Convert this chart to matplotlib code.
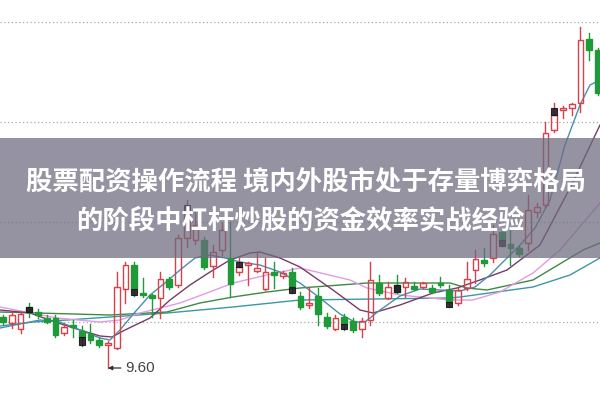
import matplotlib
matplotlib.use("Agg")
import matplotlib.pyplot as plt
from matplotlib.patches import Rectangle

# daily candles (open, high, low, close)
opens = [10.11, 10.05, 9.99, 10.21, 10.16, 10.10, 10.10, 9.95, 10.02, 9.97,
         9.94, 9.88, 9.83, 9.80, 10.39, 10.63, 10.35, 10.33, 10.30, 10.49,
         10.43, 10.90, 10.88, 10.88, 10.62, 10.78, 10.70, 10.56, 10.63, 10.57,
         10.39, 10.56, 10.52, 10.56, 10.32, 10.23, 10.32, 10.11, 9.99, 10.11,
         10.07, 9.99, 10.08, 10.45, 10.30, 10.43, 10.41, 10.42, 10.41, 10.40,
         10.45, 10.38, 10.25, 10.40, 10.58, 10.68, 10.70, 10.96, 10.84, 10.80,
         10.85, 11.16, 11.23, 11.98, 12.18, 12.20, 12.25, 12.89, 12.78]
highs = [10.13, 10.16, 10.16, 10.25, 10.19, 10.13, 10.13, 10.04, 10.08, 10.02,
         10.04, 9.90, 9.87, 10.56, 10.66, 10.66, 10.50, 10.34, 10.56, 10.51,
         10.93, 11.28, 11.16, 10.91, 10.83, 11.05, 11.06, 10.70, 10.66, 10.76,
         10.70, 10.66, 10.57, 10.60, 10.36, 10.41, 10.40, 10.15, 10.13, 10.14,
         10.10, 10.10, 10.66, 10.53, 10.46, 10.53, 10.50, 10.46, 10.46, 10.43,
         10.51, 10.43, 10.40, 10.66, 10.78, 10.80, 11.03, 10.98, 10.98, 10.82,
         11.33, 11.25, 12.06, 12.25, 12.22, 12.25, 13.01, 12.95, 12.80]
lows = [10.04, 10.00, 9.95, 10.11, 10.10, 10.05, 9.91, 9.93, 9.91, 9.82,
        9.85, 9.81, 9.60, 9.79, 10.25, 10.32, 10.31, 10.11, 10.10, 10.39,
        10.41, 10.81, 10.84, 10.59, 10.51, 10.73, 10.31, 10.53, 10.43, 10.56,
        10.38, 10.40, 10.50, 10.35, 10.19, 10.20, 10.03, 10.00, 9.98, 9.98,
        9.96, 9.91, 10.03, 10.33, 10.29, 10.35, 10.31, 10.38, 10.40, 10.35,
        10.41, 10.21, 10.23, 10.38, 10.45, 10.62, 10.66, 10.82, 10.63, 10.72,
        10.78, 11.11, 11.21, 11.96, 12.10, 12.13, 12.16, 12.68, 12.33]
closes = [10.06, 10.13, 10.14, 10.16, 10.13, 10.06, 9.93, 10.01, 10.01, 9.91,
          9.88, 9.83, 9.85, 10.41, 10.63, 10.39, 10.33, 10.30, 10.49, 10.41,
          10.90, 11.16, 11.03, 10.61, 10.76, 10.98, 10.44, 10.61, 10.65, 10.60,
          10.56, 10.53, 10.55, 10.42, 10.21, 10.25, 10.14, 10.02, 10.10, 10.04,
          9.98, 10.07, 10.48, 10.35, 10.41, 10.36, 10.46, 10.39, 10.45, 10.36,
          10.43, 10.26, 10.38, 10.49, 10.69, 10.65, 10.94, 10.88, 10.80, 10.74,
          11.18, 11.21, 11.95, 12.13, 12.20, 12.24, 12.88, 12.78, 12.35]

# dark marks shown every sixth session
mark_idx = [3, 9, 15, 21, 27, 33, 39, 45, 51, 57, 63]
mark_top = [10.21, 9.91, 10.39, 11.23, 10.66, 10.41, 10.04, 10.43, 10.26, 10.88, 12.20]
mark_bot = [10.16, 9.83, 10.33, 11.16, 10.61, 10.35, 9.99, 10.36, 10.21, 10.82, 12.13]

# moving averages
ma5_x = [-0.34, 1.94, 4.23, 6.51, 8.8, 11.09, 12.23, 13.37, 15.09, 16.8, 18.51,
         20.23, 21.94, 23.66, 25.37, 27.09, 29.37, 31.66, 33.94, 36.23, 38.51,
         40.23, 41.37, 43.09, 45.37, 47.66, 49.94, 52.23, 53.94, 55.66, 57.37,
         59.09, 60.8, 62.51, 64.23, 65.94, 67.09, 68.23]
ma5_y = [10.00, 10.04, 10.08, 10.06, 9.98, 9.90, 9.88, 9.98, 10.16, 10.33, 10.45,
         10.58, 10.70, 10.73, 10.70, 10.66, 10.63, 10.56, 10.45, 10.30, 10.14,
         10.06, 10.06, 10.18, 10.32, 10.39, 10.38, 10.37, 10.41, 10.53, 10.68,
         10.83, 11.00, 11.28, 11.83, 12.23, 12.43, 12.48]
ma10_x = [-0.34, 3.09, 5.94, 8.8, 11.09, 12.46, 13.94, 16.8, 19.09, 21.37, 23.66,
          25.94, 28.23, 29.37, 31.66, 33.94, 37.71, 40.8, 42.29, 45.37, 49.14,
          51.89, 54.51, 57.6, 61.37, 64.8, 68.23]
ma10_y = [10.18, 10.15, 10.06, 9.98, 9.92, 9.91, 9.98, 10.10, 10.28, 10.43, 10.56,
          10.68, 10.75, 10.76, 10.70, 10.61, 10.38, 10.18, 10.15, 10.23, 10.35,
          10.40, 10.48, 10.58, 10.83, 11.40, 12.03]
ma20_x = [-0.34, 6.17, 11.09, 13.37, 15.66, 20.23, 23.31, 26.29, 30.17, 33.94,
          39.66, 41.6, 45.37, 51.09, 53.71, 56.8, 60.57, 63.66, 68.23]
ma20_y = [10.21, 10.10, 10.06, 10.08, 10.15, 10.25, 10.35, 10.45, 10.53, 10.60,
          10.48, 10.40, 10.33, 10.28, 10.28, 10.36, 10.55, 10.78, 11.25]
ma30_x = [-0.34, 12.23, 18.74, 22.51, 26.29, 30.17, 33.94, 41.6, 51.09, 53.03,
          55.31, 60.57, 66.29, 68.23]
ma30_y = [10.16, 10.13, 10.16, 10.25, 10.31, 10.36, 10.40, 10.45, 10.45, 10.40,
          10.38, 10.48, 10.78, 10.85]
ma60_x = [-0.34, 3.43, 7.31, 12.23, 18.74, 26.29, 33.94, 51.09, 52.23, 60.57,
          64.8, 68.23]
ma60_y = [10.02, 10.06, 10.08, 10.11, 10.15, 10.21, 10.28, 10.30, 10.31, 10.41,
          10.53, 10.70]

grid_levels = [10.06, 11.06, 12.06, 13.06]
low_label = "9.60"
title_lines = ["股票配资操作流程 境内外股市处于存量博弈格局",
               "的阶段中杠杆炒股的资金效率实战经验"]

up_color = "#d8404c"
down_color = "#1f9a38"

fig = plt.figure(figsize=(6.0, 3.99), dpi=100)
ax = fig.add_axes([0, 0, 1, 1])
ax.set_xlim(-0.343, 68.23)
ax.set_ylim(9.29, 13.28)
ax.axis("off")

for lvl in grid_levels:
    ax.axhline(lvl, color="#a8a8a8", lw=0.9, ls=(0, (1, 2)), zorder=0)

# moving average lines
ax.plot(ma60_x, ma60_y, color="#3b98a4", lw=1.0, zorder=1)
ax.plot(ma30_x, ma30_y, color="#3d8a45", lw=1.0, zorder=1)
ax.plot(ma20_x, ma20_y, color="#e39be3", lw=1.0, zorder=1)
ax.plot(ma10_x, ma10_y, color="#7a3a66", lw=1.0, zorder=1)
ax.plot(ma5_x, ma5_y, color="#4a8fae", lw=1.0, zorder=1)

w = 0.66
for i, (o, h, l, c) in enumerate(zip(opens, highs, lows, closes)):
    if c >= o:
        col = up_color
        top, bot = c, o
        ax.plot([i, i], [top, h], color=col, lw=1, zorder=2)
        ax.plot([i, i], [l, bot], color=col, lw=1, zorder=2)
        ax.add_patch(Rectangle((i - w / 2, bot), w, max(top - bot, 0.012),
                               facecolor="none", edgecolor=col, lw=1, zorder=3))
    else:
        col = down_color
        ax.plot([i, i], [l, h], color=col, lw=1, zorder=2)
        ax.add_patch(Rectangle((i - w / 2, c), w, max(o - c, 0.02),
                               facecolor=col, edgecolor=col, lw=1, zorder=3))

for i, t, b in zip(mark_idx, mark_top, mark_bot):
    ax.add_patch(Rectangle((i - w / 2, b), w, t - b, facecolor="#2a1a2a",
                           edgecolor="#151515", lw=0.8, alpha=0.9, zorder=4))

ax.annotate(low_label, xy=(12, min(lows)), xytext=(13.95, min(lows)),
            va="center", ha="left", fontsize=11, color="#444444",
            family=["Liberation Sans", "DejaVu Sans"],
            arrowprops=dict(arrowstyle="-|>", color="#333333", lw=0.9,
                            mutation_scale=6, shrinkA=1, shrinkB=0))

# grey title banner
fig.patches.append(Rectangle((0, 1 - 258 / 399), 1, 120 / 399,
                             transform=fig.transFigure, facecolor="#6c6a7e",
                             alpha=0.72, edgecolor="none", zorder=10))
fig.text(0.51, 1 - 183 / 399, title_lines[0], ha="center", va="center",
         color="white", fontsize=19, fontweight="bold",
         family=["Noto Sans CJK SC", "DejaVu Sans"], zorder=11)
fig.text(0.50, 1 - 221 / 399, title_lines[1], ha="center", va="center",
         color="white", fontsize=19, fontweight="bold",
         family=["Noto Sans CJK SC", "DejaVu Sans"], zorder=11)

fig.savefig("out.png", dpi=100)
